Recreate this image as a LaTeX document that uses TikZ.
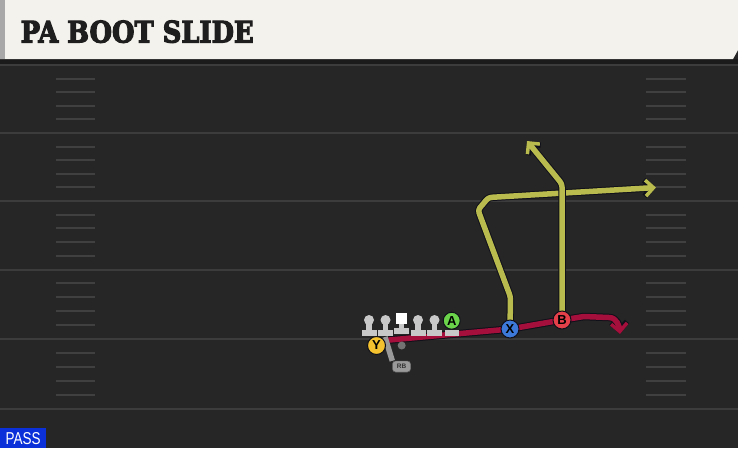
\documentclass[tikz,border=0pt]{standalone}
\usepackage{fontspec}
\setmainfont{Liberation Sans}
\newfontfamily\titlefont{DejaVu Serif}[FakeBold=4]
\usetikzlibrary{arrows.meta}
\definecolor{hdr}{HTML}{F4F2EC}
\definecolor{hdredge}{HTML}{A8A8A8}
\definecolor{field}{HTML}{262626}
\definecolor{band}{HTML}{1B1B1B}
\definecolor{yline}{HTML}{3C3C3C}
\definecolor{hashc}{HTML}{404040}
\definecolor{routeY}{HTML}{B9BB4E}
\definecolor{routeR}{HTML}{A50F3B}
\definecolor{outl}{HTML}{10101A}
\definecolor{pX}{HTML}{3C79D9}
\definecolor{pB}{HTML}{E4404A}
\definecolor{pA}{HTML}{6AD34A}
\definecolor{pY}{HTML}{F3C22E}
\definecolor{lm}{HTML}{C8C8C8}
\definecolor{rbc}{HTML}{9A9A9A}
\definecolor{passblue}{HTML}{0B2FD9}
\definecolor{titlec}{HTML}{1E1E1E}
\tikzset{
  yardline/.style={draw=yline, line width=2pt},
  hashmark/.style={draw=hashc, line width=2pt},
  routeout/.style={draw=outl, line width=7.5pt, line join=round,
    -{Straight Barb[length=8pt,width=16pt,line width=5.5pt]}},
  yroute/.style={draw=routeY, line width=5.5pt, line join=round,
    -{Straight Barb[length=8pt,width=16pt,line width=3.5pt]}},
  rroute/.style={draw=routeR, line width=5.5pt, line join=round,
    -{Straight Barb[length=8pt,width=16pt,line width=3.5pt]}},
  player/.style={circle, draw=outl, line width=1pt, minimum size=18pt,
    inner sep=0pt, font=\bfseries\fontsize{13}{13}\selectfont, text=black},
  rbbox/.style={draw=black!70, fill=rbc, rounded corners=3pt, minimum width=18pt,
    minimum height=11pt, inner sep=0pt, text=black!80,
    font=\bfseries\fontsize{6.5}{6.5}\selectfont},
  lineman/.pic={
    \fill[lm] (-2.6,0) rectangle (2.6,11);
    \fill[lm] (0,0) circle (5);
    \fill[lm] (-7.5,10) rectangle (7.5,16);
  },
  centerman/.pic={
    \fill[lm] (-2.6,0) rectangle (2.6,11);
    \fill[white] (-5.5,-5.5) rectangle (5.5,5.5);
    \fill[lm] (-7.5,10) rectangle (7.5,16);
  },
  tebase/.pic={
    \fill[lm] (-7,-1.5) rectangle (7,4.5);
  }
}
\begin{document}
\begin{tikzpicture}[x=1pt,y=-1pt]
\useasboundingbox (0,0) rectangle (738,448);
% field
\fill[field] (0,0) rectangle (738,448);
\fill[band] (0,59) rectangle (738,64);
\foreach \yy in {65,133,201,269.5,338.5,408.5}
  \draw[yardline] (0,\yy) -- (738,\yy);
\foreach \a/\b in {65/133,133/201,201/269.5,269.5/338.5,338.5/408.5}{
  \foreach \k in {1,2,3,4}{
    \pgfmathsetmacro{\hy}{\a+(\b-\a)*\k/5}
    \draw[hashmark] (56,\hy) -- (95,\hy);
    \draw[hashmark] (646,\hy) -- (686,\hy);
  }
}
% header
\fill[hdr] (0,0) -- (738,0) -- (738,50) -- (733,59) -- (0,59) -- cycle;
\fill[hdredge] (0,0) rectangle (5,59);
\node[anchor=west, inner sep=0pt, text=titlec] (title) at (20.5,31.7)
  {\resizebox{233pt}{22pt}{\titlefont\bfseries PA BOOT SLIDE}};
% pass label
\fill[passblue] (0,428) rectangle (46,448);
\node[inner sep=0pt, text=white] (pass) at (23,439)
  {\resizebox{35pt}{12pt}{PASS}};
% coordinates
\coordinate (redstart) at (384,340.5);
\coordinate (r1) at (584,316.5);
\coordinate (r2) at (609,317.5);
\coordinate (rend) at (620,334);
\coordinate (x1) at (510.5,297);
\coordinate (x2) at (478,210);
\coordinate (x3) at (488.5,197.5);
\coordinate (xend) at (656,187.5);
\coordinate (b1) at (562,184);
\coordinate (bend) at (527,141);
\coordinate (rbstart) at (385,337);
% player anchors
\coordinate (Y) at (376.5,345.5);
\coordinate (X) at (510,329);
\coordinate (B) at (562,320);
% routes
\draw[routeout] (redstart) -- (X) -- (B) -- (r1) -- (r2) to[out=0,in=95] (rend);
\draw[rroute] (redstart) -- (X) -- (B) -- (r1) -- (r2) to[out=0,in=95] (rend);
\draw[routeout, rounded corners=3pt] (X) -- (x1) -- (x2) -- (x3) -- (xend);
\draw[yroute, rounded corners=3pt] (X) -- (x1) -- (x2) -- (x3) -- (xend);
\draw[routeout, rounded corners=3pt] (B) -- (b1) -- (bend);
\draw[yroute, rounded corners=3pt] (B) -- (b1) -- (bend);
% RB
\node[rbbox] (RB) at (401.5,366.5) {RB};
\draw[rbc, line width=5.5pt] (rbstart) -- (RB.north west);
\node[rbbox] (RBtop) at (RB) {RB};
% linemen
\pic at (369,320) {lineman};
\pic at (385.5,320) {lineman};
\pic at (401.7,318) {centerman};
\pic at (418,320) {lineman};
\pic at (434.5,320) {lineman};
\pic at (451.7,331) {tebase};
\fill[black!55] (401.7,345.5) circle (4);
% players on top
\node[player, fill=pY] (Ynode) at (Y) {Y};
\node[player, fill=pX] (Xnode) at (X) {X};
\node[player, fill=pB] (Bnode) at (B) {B};
\node[player, fill=pA, minimum size=17pt] (A) at (451.7,320.7) {A};
\end{tikzpicture}
\end{document}
